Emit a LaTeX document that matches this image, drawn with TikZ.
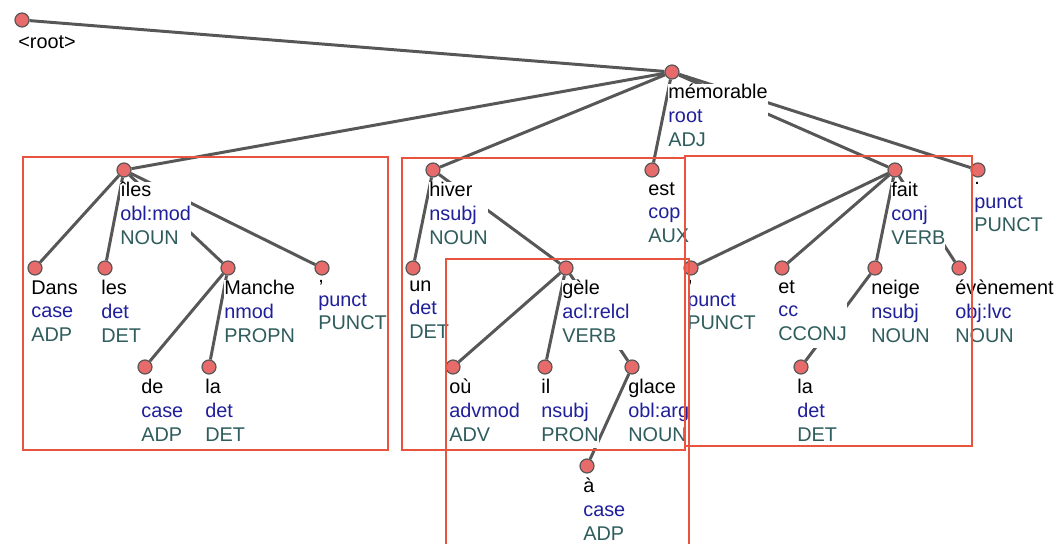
\documentclass[tikz,border=0pt]{standalone}
\usepackage{fontspec}
\setmainfont{Liberation Sans}
\definecolor{reln}{HTML}{1F1F9C}
\definecolor{upos}{HTML}{2F5C5C}
\definecolor{dotred}{HTML}{E86B6B}
\definecolor{edgegray}{HTML}{575757}
\definecolor{boxred}{HTML}{E8543E}
\newcommand{\rl}[1]{\textcolor{reln}{#1}}
\newcommand{\ps}[1]{\textcolor{upos}{#1}}

\begin{document}
\begin{tikzpicture}[x=0.02cm, y=-0.02cm,
    dot/.style = {draw=edgegray, circle, fill=dotred, minimum size=0.28cm, inner sep=0pt, line width=0.7pt},
    lbl/.style = {anchor=north west, inner sep=0pt, fill=white, align=left,
                  font=\fontsize{11.3}{13.5}\selectfont, execute at begin node=\strut},
    dep/.style = {draw=edgegray, line width=1.7pt},
    grp/.style = {draw=boxred, line width=1.1pt}]
	\useasboundingbox (0,0) rectangle (1056,544);
	% tokens
	\node[dot] (root) at (22,20) {};
	\node[dot] (memorable) at (672,72) {};
	\node[dot] (iles) at (124,170) {};
	\node[dot] (hiver) at (433,170) {};
	\node[dot] (est) at (652,170) {};
	\node[dot] (fait) at (895,170) {};
	\node[dot] (point) at (978,170) {};
	\node[dot] (dans) at (35,268) {};
	\node[dot] (les) at (105,268) {};
	\node[dot] (manche) at (228,268) {};
	\node[dot] (virg1) at (322,268) {};
	\node[dot] (de) at (145,367) {};
	\node[dot] (la1) at (209,367) {};
	\node[dot] (un) at (413,268) {};
	\node[dot] (gele) at (566,268) {};
	\node[dot] (virg2) at (691,268) {};
	\node[dot] (et) at (782,268) {};
	\node[dot] (neige) at (875,268) {};
	\node[dot] (evenement) at (959,268) {};
	\node[dot] (ou) at (453,367) {};
	\node[dot] (il) at (545,367) {};
	\node[dot] (glace) at (632,367) {};
	\node[dot] (la2) at (801,367) {};
	\node[dot] (a) at (587,466) {};
	% dependencies
	\path[every edge/.style=dep]
	(root) edge (memorable)
	(memorable) edge (iles) (memorable) edge (hiver)
	(memorable) edge (est) (memorable) edge (fait)
	(memorable) edge (point)
	(iles) edge (dans) (iles) edge (les)
	(iles) edge (manche) (iles) edge (virg1)
	(manche) edge (de) (manche) edge (la1)
	(hiver) edge (un) (hiver) edge (gele)
	(gele) edge (ou) (gele) edge (il) (gele) edge (glace)
	(glace) edge (a)
	(fait) edge (virg2) (fait) edge (et)
	(fait) edge (neige) (fait) edge (evenement)
	(neige) edge (la2);
	% labels
	\node[lbl] (root-l) at ([shift={(-4,12)}]root.center) {<root>};
	\node[lbl] (memorable-l) at ([shift={(-4,12)}]memorable.center) {mémorable\\\rl{root}\\\ps{ADJ}};
	\node[lbl] (iles-l) at ([shift={(-4,12)}]iles.center) {îles\\\rl{obl:mod}\\\ps{NOUN}};
	\node[lbl] (hiver-l) at ([shift={(-4,12)}]hiver.center) {hiver\\\rl{nsubj}\\\ps{NOUN}};
	\node[lbl] (est-l) at ([shift={(-4,12)}]est.center) {est\\\rl{cop}\\\ps{AUX}};
	\node[lbl] (fait-l) at ([shift={(-4,12)}]fait.center) {fait\\\rl{conj}\\\ps{VERB}};
	\node[lbl] (point-l) at ([shift={(-4,12)}]point.center) {.\\\rl{punct}\\\ps{PUNCT}};
	\node[lbl] (dans-l) at ([shift={(-4,12)}]dans.center) {Dans\\\rl{case}\\\ps{ADP}};
	\node[lbl] (les-l) at ([shift={(-4,12)}]les.center) {les\\\rl{det}\\\ps{DET}};
	\node[lbl] (manche-l) at ([shift={(-4,12)}]manche.center) {Manche\\\rl{nmod}\\\ps{PROPN}};
	\node[lbl] (virg1-l) at ([shift={(-4,12)}]virg1.center) {,\\\rl{punct}\\\ps{PUNCT}};
	\node[lbl] (de-l) at ([shift={(-4,12)}]de.center) {de\\\rl{case}\\\ps{ADP}};
	\node[lbl] (la1-l) at ([shift={(-4,12)}]la1.center) {la\\\rl{det}\\\ps{DET}};
	\node[lbl] (un-l) at ([shift={(-4,12)}]un.center) {un\\\rl{det}\\\ps{DET}};
	\node[lbl] (gele-l) at ([shift={(-4,12)}]gele.center) {gèle\\\rl{acl:relcl}\\\ps{VERB}};
	\node[lbl] (virg2-l) at ([shift={(-4,12)}]virg2.center) {,\\\rl{punct}\\\ps{PUNCT}};
	\node[lbl] (et-l) at ([shift={(-4,12)}]et.center) {et\\\rl{cc}\\\ps{CCONJ}};
	\node[lbl] (neige-l) at ([shift={(-4,12)}]neige.center) {neige\\\rl{nsubj}\\\ps{NOUN}};
	\node[lbl] (evenement-l) at ([shift={(-4,12)}]evenement.center) {évènement\\\rl{obj:lvc}\\\ps{NOUN}};
	\node[lbl] (ou-l) at ([shift={(-4,12)}]ou.center) {où\\\rl{advmod}\\\ps{ADV}};
	\node[lbl] (il-l) at ([shift={(-4,12)}]il.center) {il\\\rl{nsubj}\\\ps{PRON}};
	\node[lbl] (glace-l) at ([shift={(-4,12)}]glace.center) {glace\\\rl{obl:arg}\\\ps{NOUN}};
	\node[lbl] (la2-l) at ([shift={(-4,12)}]la2.center) {la\\\rl{det}\\\ps{DET}};
	\node[lbl] (a-l) at ([shift={(-4,12)}]a.center) {à\\\rl{case}\\\ps{ADP}};
	% groups
	\draw[grp] (23,157) rectangle (388,450);
	\draw[grp] (402,158) rectangle (685,450);
	\draw[grp] (685,156) rectangle (972,446);
	\draw[grp] (446,259) rectangle (689,560);
\end{tikzpicture}
\end{document}
